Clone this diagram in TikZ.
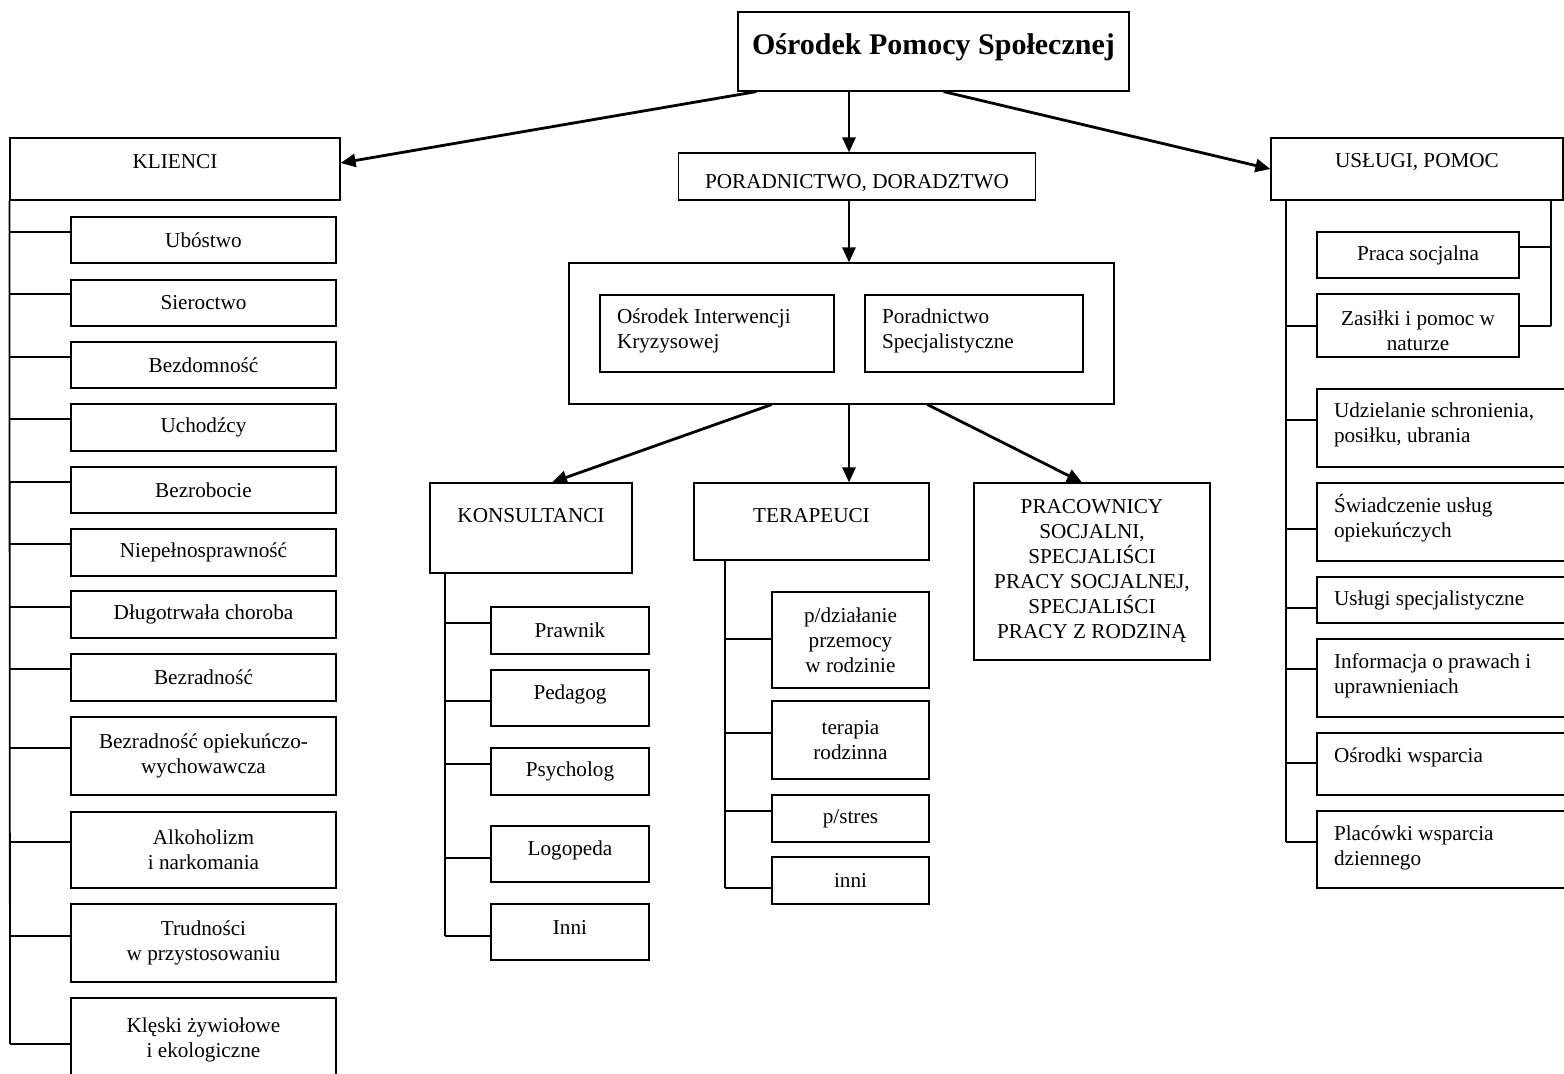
\documentclass[tikz,border=0pt]{standalone}
\usepackage{fontspec}
\setmainfont{Liberation Serif}
\usetikzlibrary{arrows.meta}

\tikzset{
	box/.style={draw, line width=0.6pt, inner sep=0pt, align=center, font=\fontsize{10.6}{12.5}\selectfont},
	lbox/.style={box, align=flush left, inner xsep=8.5pt, text width=#1},
	arr/.style={line width=1.4pt, -{Triangle[length=7.5pt,width=6.5pt]}},
	link/.style={line width=0.9pt},
}

\begin{document}
\begin{tikzpicture}[x=0.5pt, y=-0.5pt]
	\useasboundingbox (0,0) rectangle (1564,1073);

	% top
	\node[box, minimum width=195.5pt, minimum height=39.5pt, text depth=7pt, font=\bfseries\fontsize{15}{18}\selectfont] (top) at (933.5,51.5) {Ośrodek Pomocy Społecznej};
	\node[box, minimum width=165pt, minimum height=31pt, text depth=8pt] (kli) at (175,169) {KLIENCI};
	\node[box, minimum width=178.5pt, minimum height=23.5pt, text height=14pt] (por) at (857,176.5) {PORADNICTWO, DORADZTWO};
	\node[box, minimum width=146pt, minimum height=31pt, text depth=9pt] (usl) at (1417,169) {USŁUGI, POMOC};
	\coordinate (spine) at (849,0);

	% poradnictwo
	\node[box, minimum width=272.5pt, minimum height=70.5pt] (grp) at (841.5,333.5) {};
	\node[lbox=100pt, minimum width=117pt, minimum height=38.5pt, text depth=17.5pt] (oik) at (717,333.5) {Ośrodek Interwencji\\Kryzysowej};
	\node[lbox=92pt, minimum width=109pt, minimum height=38.5pt, text depth=17.5pt] (ps) at (974,333.5) {Poradnictwo\\Specjalistyczne};

	\node[box, minimum width=101pt, minimum height=45pt, text depth=13pt] (kon) at (531,528) {KONSULTANCI};
	\node[box, minimum width=117.5pt, minimum height=38.5pt, text depth=6pt] (ter) at (811.5,521.5) {TERAPEUCI};
	\node[box, minimum width=118pt, minimum height=88.5pt] (prac) at (1092,571.5) {PRACOWNICY\\SOCJALNI,\\SPECJALIŚCI\\PRACY SOCJALNEJ,\\SPECJALIŚCI\\PRACY Z RODZINĄ};

	% konsultanci
	\node[box, minimum width=79pt, minimum height=23.5pt] (prawnik) at (570,630.5) {Prawnik};
	\node[box, minimum width=79pt, minimum height=28pt, text depth=6pt] (pedagog) at (570,698) {Pedagog};
	\node[box, minimum width=79pt, minimum height=23.5pt] (psycholog) at (570,771.5) {Psycholog};
	\node[box, minimum width=79pt, minimum height=28pt, text depth=6pt] (logopeda) at (570,854) {Logopeda};
	\node[box, minimum width=79pt, minimum height=28pt, text depth=5pt] (kinni) at (570,932) {Inni};

	% terapeuci
	\node[box, minimum width=78.5pt, minimum height=48pt] (przemoc) at (850.5,640) {p/działanie\\przemocy\\w rodzinie};
	\node[box, minimum width=78.5pt, minimum height=39pt] (rodzinna) at (850.5,740) {terapia\\rodzinna};
	\node[box, minimum width=78.5pt, minimum height=23.5pt] (stres) at (850.5,818.5) {p/stres};
	\node[box, minimum width=78.5pt, minimum height=23.5pt] (tinni) at (850.5,880.5) {inni};

	% klienci
	\node[box, minimum width=132.5pt, minimum height=23pt] (ubo) at (203.5,240) {Ubóstwo};
	\node[box, minimum width=132.5pt, minimum height=23pt] (sier) at (203.5,303) {Sieroctwo};
	\node[box, minimum width=132.5pt, minimum height=23pt] (bezd) at (203.5,365) {Bezdomność};
	\node[box, minimum width=132.5pt, minimum height=23.5pt] (uch) at (203.5,427.5) {Uchodźcy};
	\node[box, minimum width=132.5pt, minimum height=23pt] (bezr) at (203.5,490) {Bezrobocie};
	\node[box, minimum width=132.5pt, minimum height=23.5pt] (niep) at (203.5,552.5) {Niepełnosprawność};
	\node[box, minimum width=132.5pt, minimum height=23.5pt] (dlug) at (203.5,614.5) {Długotrwała choroba};
	\node[box, minimum width=132.5pt, minimum height=23.5pt] (bezrad) at (203.5,677.5) {Bezradność};
	\node[box, minimum width=132.5pt, minimum height=39pt] (bop) at (203.5,756) {Bezradność opiekuńczo-\\wychowawcza};
	\node[box, minimum width=132.5pt, minimum height=38pt] (alk) at (203.5,850) {Alkoholizm\\i narkomania};
	\node[box, minimum width=132.5pt, minimum height=39pt] (trud) at (203.5,943) {Trudności\\w przystosowaniu};
	\node[box, minimum width=132.5pt, minimum height=42pt] (kles) at (203.5,1040) {Klęski żywiołowe\\i ekologiczne};

	% uslugi
	\node[box, minimum width=101pt, minimum height=23pt] (praca) at (1418,255) {Praca socjalna};
	\node[box, minimum width=101pt, minimum height=31.5pt, text height=25pt] (zas) at (1418,325.5) {Zasiłki i pomoc w\\naturze};
	\node[lbox=109.5pt, minimum width=126.5pt, minimum height=39pt, text depth=18pt] (udz) at (1443.5,428) {Udzielanie schronienia,\\posiłku, ubrania};
	\node[lbox=109.5pt, minimum width=126.5pt, minimum height=39pt, text depth=19pt] (swi) at (1443.5,522) {Świadczenie usług\\opiekuńczych};
	\node[lbox=109.5pt, minimum width=126.5pt, minimum height=23pt] (uspec) at (1443.5,600) {Usługi specjalistyczne};
	\node[lbox=109.5pt, minimum width=126.5pt, minimum height=39pt, text depth=17pt] (info) at (1443.5,678) {Informacja o prawach i\\uprawnieniach};
	\node[lbox=109.5pt, minimum width=126.5pt, minimum height=31pt, text depth=9pt] (osw) at (1443.5,764) {Ośrodki wsparcia};
	\node[lbox=109.5pt, minimum width=126.5pt, minimum height=38.5pt, text depth=16.5pt] (plac) at (1443.5,849.5) {Placówki wsparcia\\dziennego};

	% arrows
	\draw[arr] ([xshift=9.5pt]top.south west) -- ([yshift=3pt]kli.east);
	\draw[arr] (top.south -| spine) -- (por.north -| spine);
	\draw[arr] ([xshift=-93pt]top.south east) -- (usl.west);
	\draw[arr] (por.south -| spine) -- (grp.north -| spine);
	\draw[arr] ([xshift=-35pt]grp.south) -- ([xshift=10.5pt]kon.north);
	\draw[arr] (grp.south -| spine) -- (ter.north -| spine);
	\draw[arr] ([xshift=43pt]grp.south) -- ([xshift=-5pt]prac.north);

	% trunks
	\coordinate (lt) at (10,1044);
	\coordinate (kt) at (445,936);
	\coordinate (tt) at (725,888);
	\coordinate (rt) at (1286,842);
	\coordinate (rt2) at (1551,326);
	\draw[link] (kli.south west) -- (lt);
	\draw[link] (kon.south -| kt) -- (kt);
	\draw[link] (ter.south -| tt) -- (tt);
	\draw[link] (usl.south -| rt) -- (rt);
	\draw[link] (usl.south -| rt2) -- (rt2);

	\foreach \n/\y in {ubo/232,sier/294,bezd/357,uch/419,bezr/482,niep/544,dlug/607,bezrad/669,bop/748,alk/842,trud/936,kles/1044}
		\draw[link] (lt |- 0,\y) -- (\n.west |- 0,\y);
	\foreach \n/\y in {prawnik/623,pedagog/701,psycholog/764,logopeda/858,kinni/936}
		\draw[link] (kt |- 0,\y) -- (\n.west |- 0,\y);
	\foreach \n/\y in {przemoc/639,rodzinna/733,stres/811,tinni/888}
		\draw[link] (tt |- 0,\y) -- (\n.west |- 0,\y);
	\foreach \n/\y in {zas/326,udz/420,swi/529,uspec/608,info/669,osw/763,plac/842}
		\draw[link] (rt |- 0,\y) -- (\n.west |- 0,\y);
	\foreach \n/\y in {praca/247,zas/326}
		\draw[link] (rt2 |- 0,\y) -- (\n.east |- 0,\y);
\end{tikzpicture}
\end{document}
